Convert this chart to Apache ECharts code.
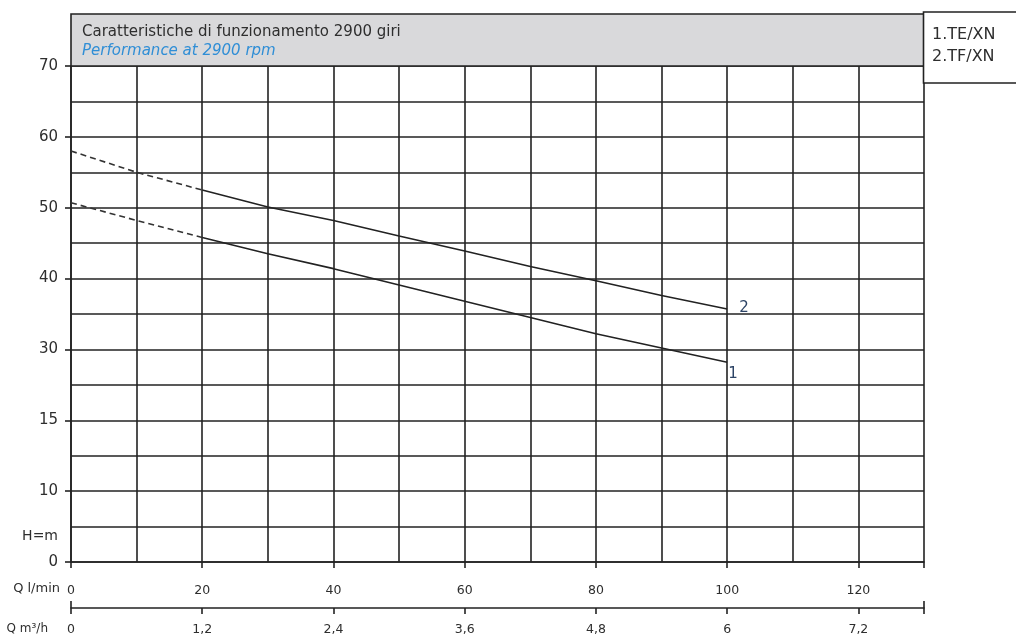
<!DOCTYPE html>
<html>
<head>
<meta charset="utf-8">
<script src="https://cdn.jsdelivr.net/npm/echarts@6/dist/echarts.min.js"></script>
<style>
html,body{margin:0;padding:0;background:#fff;}
#c{width:1016px;height:637px;}
</style>
</head>
<body>
<div id="c"></div>
<script>
// ---- data ----
var flowLmin = [0, 10, 20, 30, 40, 50, 60, 70, 80, 90, 100];
var headTF = [58.0, 55.0, 52.5, 50.1, 48.2, 46.0, 43.9, 41.7, 39.7, 37.6, 35.7]; // curve 2
var headTE = [50.7, 48.2, 45.8, 43.5, 41.4, 39.1, 36.8, 34.5, 32.2, 30.2, 28.2]; // curve 1
var dashedUntilIndex = 2; // Q = 20 l/min
var yTickValues = [0, 10, 20, 30, 40, 50, 60, 70];
var yTickLabels = ['0', '10', '15', '30', '40', '50', '60', '70'];
var titleText = 'Caratteristiche di funzionamento 2900 giri';
var subtitleText = 'Performance at 2900 rpm';
var legendTexts = ['1.TE/XN', '2.TF/XN'];
var curveNames = ['1', '2'];

function pairs(xs, ys, from, to) {
  var out = [];
  for (var i = from; i <= to; i++) out.push([xs[i], ys[i]]);
  return out;
}

var lineCol = '#222';
var textCol = '#2e2e2e';
var font = '"DejaVu Sans", Verdana, sans-serif';
var last = flowLmin.length - 1;

var chart = echarts.init(document.getElementById('c'), null, {renderer: 'canvas'});

function curveSeries(ys, name, endOffset, endDist) {
  return [
    {
      type: 'line', xAxisIndex: 0, yAxisIndex: 0, symbol: 'none', silent: true,
      data: pairs(flowLmin, ys, 0, dashedUntilIndex),
      lineStyle: {color: '#333', width: 1.6, type: [6, 4]}
    },
    {
      type: 'line', xAxisIndex: 0, yAxisIndex: 0, symbol: 'none', silent: true,
      data: pairs(flowLmin, ys, dashedUntilIndex, last),
      lineStyle: {color: '#222', width: 1.6},
      endLabel: {
        show: true, formatter: name, color: '#2d4466', fontSize: 15, fontFamily: font,
        distance: endDist, offset: endOffset
      }
    }
  ];
}

var series = [].concat(
  curveSeries(headTE, curveNames[0], [0, 12], 1),
  curveSeries(headTF, curveNames[1], [0, -1], 12)
);

var option = {
  animation: false,
  backgroundColor: '#fff',
  grid: {left: 71, right: 92, top: 66, bottom: 75, containLabel: false},
  xAxis: [
    { // grid
      type: 'value', min: 0, max: 130, interval: 10, position: 'bottom',
      axisLine: {show: true, lineStyle: {color: lineCol, width: 1.6}},
      axisTick: {show: false}, axisLabel: {show: false},
      splitLine: {show: true, lineStyle: {color: lineCol, width: 1.6}}
    },
    { // l/min labels
      type: 'value', min: 0, max: 130, interval: 20, position: 'bottom',
      axisLine: {show: false},
      axisTick: {show: true, length: 6, lineStyle: {color: lineCol, width: 1.6}},
      axisLabel: {
        show: true, margin: 22, color: textCol, fontSize: 12.5, fontFamily: font,
        showMaxLabel: true,
        formatter: function (v) { return v > 120 ? '' : String(v); }
      },
      splitLine: {show: false}
    },
    { // m3/h axis
      type: 'value', min: 0, max: 7.8, interval: 1.2, position: 'bottom', offset: 46,
      axisLine: {show: true, lineStyle: {color: lineCol, width: 1.6}},
      axisTick: {show: true, length: 6, lineStyle: {color: lineCol, width: 1.6}},
      axisLabel: {
        show: true, margin: 15, color: textCol, fontSize: 12.5, fontFamily: font,
        formatter: function (v) {
          var r = Math.round(v * 10) / 10;
          if (r > 7.2) return '';
          return String(r).replace('.', ',');
        }
      },
      splitLine: {show: false}
    },
    { // end bars of m3/h axis
      type: 'value', min: 0, max: 7.8, interval: 7.8, position: 'bottom', offset: 46,
      axisLine: {show: false},
      axisTick: {show: true, inside: true, length: 7, lineStyle: {color: lineCol, width: 1.6}},
      axisLabel: {show: false},
      splitLine: {show: false}
    }
  ],
  yAxis: [
    { // grid
      type: 'value', min: 0, max: 70, interval: 5,
      axisLine: {show: true, lineStyle: {color: lineCol, width: 1.6}},
      axisTick: {show: false}, axisLabel: {show: false},
      splitLine: {show: true, lineStyle: {color: lineCol, width: 1.6}}
    },
    { // labels
      type: 'value', min: 0, max: 70, interval: 10, position: 'left',
      axisLine: {show: false},
      axisTick: {show: true, length: 6, lineStyle: {color: lineCol, width: 1.6}},
      axisLabel: {
        show: true, margin: 13, color: textCol, fontSize: 15, fontFamily: font,
        formatter: function (v) {
          var i = yTickValues.indexOf(v);
          return i >= 0 ? yTickLabels[i] : '';
        }
      },
      splitLine: {show: false}
    }
  ],
  graphic: [
    {type: 'rect', z: 10, shape: {x: 71, y: 14, width: 853, height: 52},
      style: {fill: '#d9d9db', stroke: lineCol, lineWidth: 1.6}},
    {type: 'rect', z: 10, shape: {x: 923.5, y: 12, width: 110, height: 71},
      style: {fill: '#fff', stroke: lineCol, lineWidth: 1.6}},
    {type: 'text', z: 11, x: 82, y: 32,
      style: {text: titleText, fill: textCol, font: '15px ' + font, textVerticalAlign: 'middle'}},
    {type: 'text', z: 11, x: 82, y: 51,
      style: {text: subtitleText, fill: '#2f8ed6', font: 'italic 15px ' + font, textVerticalAlign: 'middle'}},
    {type: 'text', z: 11, x: 932, y: 35,
      style: {text: legendTexts[0], fill: textCol, font: '16px ' + font, textVerticalAlign: 'middle'}},
    {type: 'text', z: 11, x: 932, y: 57,
      style: {text: legendTexts[1], fill: textCol, font: '16px ' + font, textVerticalAlign: 'middle'}},
    {type: 'text', z: 11, x: 60, y: 589,
      style: {text: 'Q l/min', fill: textCol, font: '13px ' + font, textAlign: 'right', textVerticalAlign: 'middle'}},
    {type: 'text', z: 11, x: 48, y: 629,
      style: {text: 'Q m³/h', fill: textCol, font: '12px ' + font, textAlign: 'right', textVerticalAlign: 'middle'}},
    {type: 'text', z: 11, x: 58, y: 536,
      style: {text: 'H=m', fill: textCol, font: '14px ' + font, textAlign: 'right', textVerticalAlign: 'middle'}}
  ],
  series: series
};
chart.setOption(option);
</script>
</body>
</html>
